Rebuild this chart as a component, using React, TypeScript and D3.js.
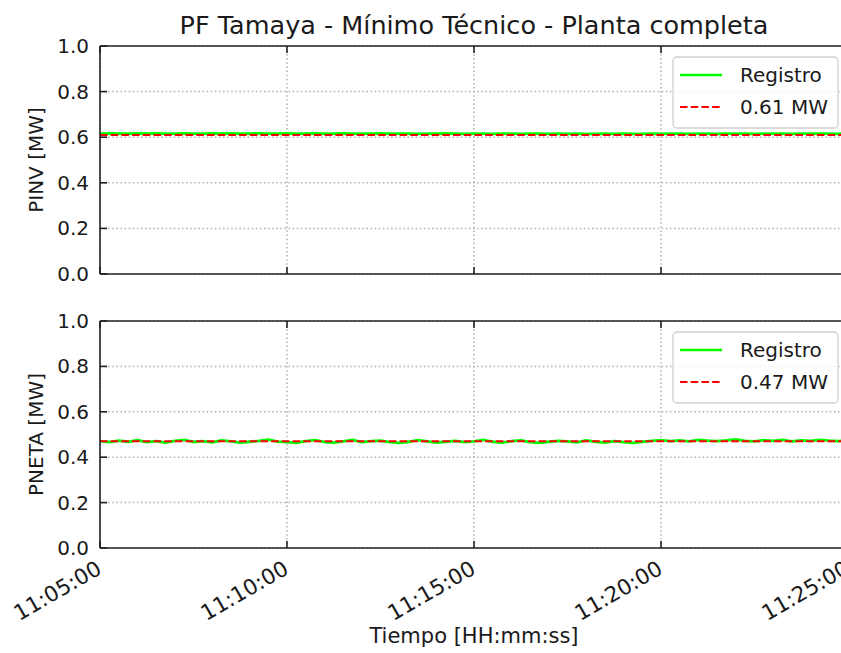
import React from "react";
import * as d3 from "d3";

const TITLE = "PF Tamaya - Mínimo Técnico - Planta completa";
const X_LABEL = "Tiempo [HH:mm:ss]";
const PANEL_LABELS = ["PINV [MW]", "PNETA [MW]"];
const LEGEND_LINE = "Registro";
const REF_VALUES = [0.61, 0.47];
const REF_LABELS = ["0.61 MW", "0.47 MW"];
const Y_TICKS = [0, 0.2, 0.4, 0.6, 0.8, 1.0];
const X_TICK_LABELS = ["11:05:00", "11:10:00", "11:15:00", "11:20:00", "11:25:00"];
const START_TIME = "11:05:00";
const STEP_SECONDS = 15;

const PINV = [
  0.616, 0.617, 0.616, 0.616, 0.617, 0.616, 0.617, 0.616, 0.616, 0.617,
  0.616, 0.616, 0.617, 0.616, 0.617, 0.616, 0.616, 0.617, 0.616, 0.616,
  0.617, 0.616, 0.616, 0.617, 0.616, 0.616, 0.617, 0.616, 0.616, 0.616,
  0.617, 0.616, 0.616, 0.616, 0.615, 0.616, 0.616, 0.617, 0.616, 0.615,
  0.616, 0.616, 0.615, 0.616, 0.616, 0.615, 0.616, 0.616, 0.615, 0.616,
  0.615, 0.616, 0.615, 0.615, 0.616, 0.615, 0.616, 0.615, 0.615, 0.616,
  0.615, 0.616, 0.616, 0.615, 0.616, 0.616, 0.615, 0.616, 0.616, 0.616,
  0.615, 0.616, 0.616, 0.616, 0.615, 0.616, 0.616, 0.616, 0.616, 0.615, 0.616,
];

const PNETA = [
  0.471, 0.466, 0.473, 0.468, 0.475, 0.466, 0.471, 0.464, 0.472, 0.476,
  0.467, 0.471, 0.465, 0.474, 0.470, 0.464, 0.468, 0.472, 0.477, 0.469,
  0.466, 0.463, 0.471, 0.475, 0.467, 0.464, 0.470, 0.476, 0.466, 0.471,
  0.473, 0.466, 0.463, 0.468, 0.475, 0.470, 0.464, 0.468, 0.472, 0.466,
  0.470, 0.476, 0.468, 0.464, 0.471, 0.474, 0.466, 0.463, 0.468, 0.472,
  0.470, 0.465, 0.474, 0.468, 0.464, 0.471, 0.466, 0.463, 0.468, 0.472,
  0.475, 0.471, 0.474, 0.470, 0.476, 0.473, 0.471, 0.474, 0.478, 0.472,
  0.470, 0.475, 0.472, 0.476, 0.470, 0.474, 0.472, 0.476, 0.473, 0.471, 0.474,
];

const SERIES = [PINV, PNETA];

const parseT = d3.timeParse("%H:%M:%S");
const FONT = "DejaVu Sans, sans-serif";
const TXT = "#1a1a1a";

export default function App() {
  const W = 841;
  const H = 653;
  const left = 100;
  const right = 848;
  const panels = [
    { top: 46, bottom: 274 },
    { top: 321, bottom: 548 },
  ];
  const t0 = parseT(START_TIME) as Date;
  const tickDates = X_TICK_LABELS.map((s) => parseT(s) as Date);
  const x = d3
    .scaleTime()
    .domain([tickDates[0], tickDates[tickDates.length - 1]])
    .range([left, right]);
  const tickLen = 7;

  return (
    <svg
      width={W}
      height={H}
      style={{ position: "absolute", left: 0, top: 0, background: "#fff" }}
      fontFamily={FONT}
    >
      <rect x={0} y={0} width={W} height={H} fill="#fff" />
      <text x={(left + right) / 2} y={34} textAnchor="middle" fontSize={25.5} fill={TXT}>
        {TITLE}
      </text>
      {panels.map((p, pi) => {
        const y = d3.scaleLinear().domain([0, 1]).range([p.bottom, p.top]);
        const data = SERIES[pi].map((v, i) => ({
          t: new Date(t0.getTime() + i * STEP_SECONDS * 1000),
          v,
        }));
        const line = d3
          .line<{ t: Date; v: number }>()
          .x((d) => x(d.t))
          .y((d) => y(d.v));
        const refY = y(REF_VALUES[pi]);
        const lgTop = p.top + 11;
        return (
          <g key={pi}>
            <clipPath id={`clip${pi}`}>
              <rect x={left} y={p.top} width={right - left} height={p.bottom - p.top} />
            </clipPath>
            {Y_TICKS.map((v, i) => (
              <line
                key={`gy${i}`}
                x1={left}
                x2={right}
                y1={y(v)}
                y2={y(v)}
                stroke="#b0b0b0"
                strokeWidth={1.5}
                strokeDasharray="1.5,2.6"
              />
            ))}
            {tickDates.map((d, i) => (
              <line
                key={`gx${i}`}
                x1={x(d)}
                x2={x(d)}
                y1={p.top}
                y2={p.bottom}
                stroke="#b0b0b0"
                strokeWidth={1.5}
                strokeDasharray="1.5,2.6"
              />
            ))}
            <g clipPath={`url(#clip${pi})`}>
              <path d={line(data) || ""} fill="none" stroke="#00ff00" strokeWidth={2.8} strokeLinejoin="round" />
              <line
                x1={left}
                x2={right}
                y1={refY}
                y2={refY}
                stroke="#ff0000"
                strokeWidth={2}
                strokeDasharray="7.5,3.2"
              />
            </g>
            <line x1={left} x2={right} y1={p.top} y2={p.top} stroke="#222" strokeWidth={1.6} />
            <line x1={left} x2={right} y1={p.bottom} y2={p.bottom} stroke="#222" strokeWidth={1.6} />
            <line x1={left} x2={left} y1={p.top} y2={p.bottom} stroke="#222" strokeWidth={1.6} />
            {Y_TICKS.map((v, i) => (
              <g key={`yt${i}`}>
                <line x1={left} x2={left + tickLen} y1={y(v)} y2={y(v)} stroke="#222" strokeWidth={1.6} />
                <text
                  x={left - 11}
                  y={y(v)}
                  textAnchor="end"
                  dominantBaseline="central"
                  fontSize={20}
                  fill={TXT}
                >
                  {v.toFixed(1)}
                </text>
              </g>
            ))}
            {tickDates.map((d, i) => (
              <g key={`xt${i}`}>
                <line x1={x(d)} x2={x(d)} y1={p.bottom} y2={p.bottom - tickLen} stroke="#222" strokeWidth={1.6} />
                <line x1={x(d)} x2={x(d)} y1={p.top} y2={p.top + tickLen} stroke="#222" strokeWidth={1.6} />
              </g>
            ))}
            {pi === 1 &&
              tickDates.map((d, i) => (
                <text
                  key={`xl${i}`}
                  transform={`translate(${x(d) - 5},${p.bottom + 11}) rotate(-30)`}
                  textAnchor="end"
                  dominantBaseline="hanging"
                  fontSize={21.5}
                  fill={TXT}
                >
                  {X_TICK_LABELS[i]}
                </text>
              ))}
            <text
              transform={`translate(36,${(p.top + p.bottom) / 2}) rotate(-90)`}
              textAnchor="middle"
              dominantBaseline="central"
              fontSize={20}
              fill={TXT}
            >
              {PANEL_LABELS[pi]}
            </text>
            <rect
              x={673}
              y={lgTop}
              width={165}
              height={71}
              rx={4}
              fill="#fff"
              fillOpacity={0.8}
              stroke="#d0d0d0"
              strokeWidth={1.3}
            />
            <line x1={680} x2={722} y1={lgTop + 18} y2={lgTop + 18} stroke="#00ff00" strokeWidth={2.6} />
            <text x={740} y={lgTop + 18} dominantBaseline="central" fontSize={20} fill={TXT}>
              {LEGEND_LINE}
            </text>
            <line
              x1={680}
              x2={722}
              y1={lgTop + 50}
              y2={lgTop + 50}
              stroke="#ff0000"
              strokeWidth={2}
              strokeDasharray="7.5,3.2"
            />
            <text x={740} y={lgTop + 50} dominantBaseline="central" fontSize={20} fill={TXT}>
              {REF_LABELS[pi]}
            </text>
          </g>
        );
      })}
      <text x={(left + right) / 2} y={643} textAnchor="middle" fontSize={21} fill={TXT}>
        {X_LABEL}
      </text>
    </svg>
  );
}
